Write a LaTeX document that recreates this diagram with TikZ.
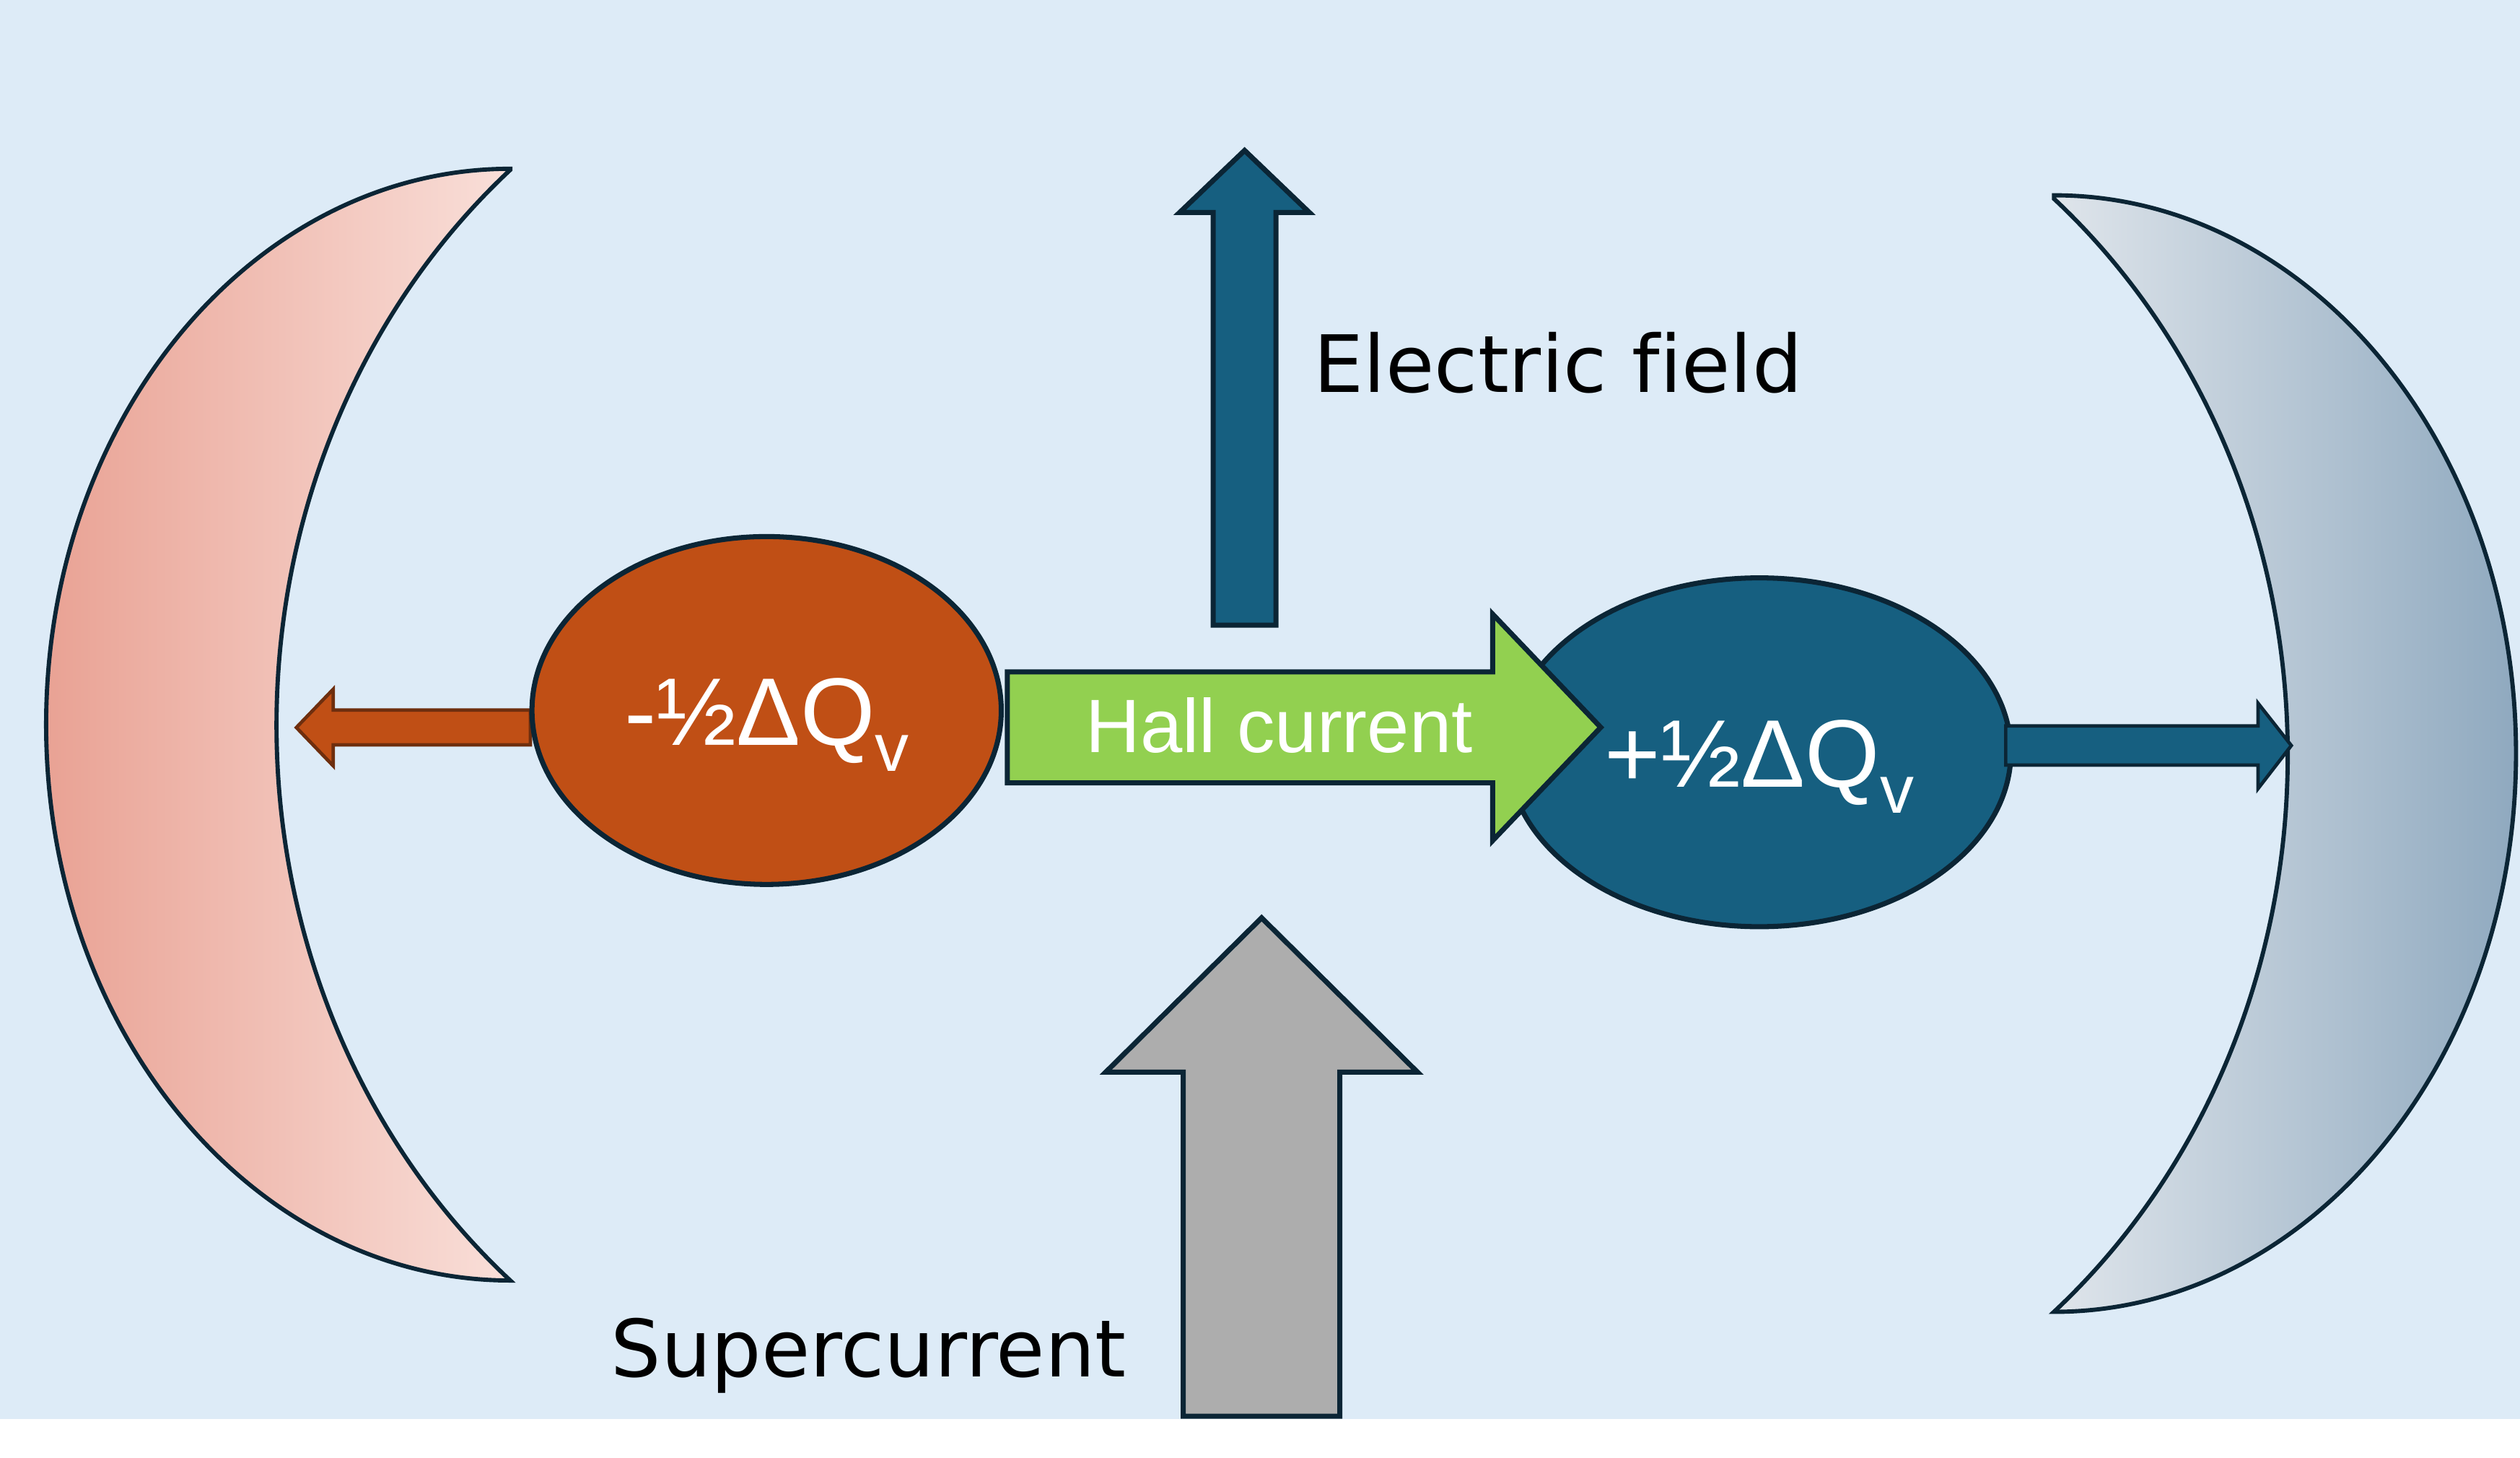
\documentclass[tikz,border=0pt]{standalone}
\usepackage{fontspec}
\setmainfont{Liberation Sans}
\newfontfamily\capfont[Ligatures=NoCommon]{DejaVu Sans}
\usepackage{tikz}
\usetikzlibrary{calc,shapes.geometric}

\definecolor{bgblue}{HTML}{DDEBF7}
\definecolor{edge}{HTML}{0B2535}
\definecolor{rust}{HTML}{C04F15}
\definecolor{rustdark}{HTML}{6E2E0E}
\definecolor{teal}{HTML}{165F80}
\definecolor{hallgreen}{HTML}{92D050}
\definecolor{supergray}{HTML}{ADADAD}
\definecolor{pinkL}{HTML}{E9A294}
\definecolor{pinkR}{HTML}{F9DFD9}
\definecolor{steelL}{HTML}{DFE5EB}
\definecolor{steelR}{HTML}{8FA9BF}

\newcommand{\qsub}{\raisebox{-0.165cm}{\fontsize{12}{12}\selectfont v}}

\tikzset{
  outl/.style={draw=edge, line width=0.9pt, line join=miter},
  thinoutl/.style={draw=edge, line width=0.75pt, line join=miter},
  qnode/.style={ellipse, outl, inner sep=0pt, text=white,
    font=\fontsize{17}{17}\selectfont, text height=0.43cm, text depth=0pt},
  caption/.style={anchor=base west, inner sep=0pt, font=\capfont\fontsize{14}{14}\selectfont}
}

\begin{document}
\begin{tikzpicture}
\useasboundingbox (0,0) rectangle (15.68,-9.07);
\fill[bgblue] (0,0) rectangle (15.68,-8.83);

% crescents
\shadedraw[left color=pinkL, right color=pinkR, thinoutl]
  (3.175,-1.05) arc[start angle=90, end angle=270, x radius=2.888, y radius=3.458]
  arc[start angle=229.7, end angle=130.3, x radius=4.118, y radius=4.53] -- cycle;
\shadedraw[left color=steelL, right color=steelR, thinoutl]
  (12.78,-1.215) arc[start angle=90, end angle=-90, x radius=2.875, y radius=3.473]
  arc[start angle=-49.7, end angle=49.7, x radius=4.118, y radius=4.54] -- cycle;

% small arrows out of the charges
\filldraw[fill=rust, draw=rustdark, line width=0.6pt]
  (3.30,-4.417) -- (2.073,-4.417) -- (2.073,-4.288) -- (1.844,-4.526)
  -- (2.073,-4.764) -- (2.073,-4.634) -- (3.30,-4.634) -- cycle;

\node[qnode, fill=rust, minimum width=2.92cm, minimum height=2.164cm] (qminus) at (4.77,-4.42) {-½ΔQ\qsub};
\node[qnode, fill=teal, minimum width=3.13cm, minimum height=2.17cm] (qplus) at (10.947,-4.68) {+½ΔQ\qsub};

\filldraw[fill=teal, draw=edge, line width=0.6pt]
  (12.48,-4.516) -- (14.05,-4.516) -- (14.05,-4.375) -- (14.257,-4.638)
  -- (14.05,-4.906) -- (14.05,-4.76) -- (12.48,-4.76) -- cycle;

% Hall current
\filldraw[fill=hallgreen, outl]
  (6.268,-4.18) -- (9.287,-4.18) -- (9.287,-3.82) -- (9.96,-4.525)
  -- (9.287,-5.23) -- (9.287,-4.87) -- (6.268,-4.87) -- cycle;
\node[anchor=base, inner sep=0pt, text=white, font=\fontsize{13.4}{13.4}\selectfont] (hall) at (7.96,-4.68) {Hall current};

% Electric field
\filldraw[fill=teal, outl]
  (7.549,-3.889) -- (7.549,-1.322) -- (7.34,-1.322) -- (7.744,-0.936)
  -- (8.147,-1.322) -- (7.939,-1.322) -- (7.939,-3.889) -- cycle;
\node[caption] (efield) at (8.168,-2.439) {Electric field};

% Supercurrent
\filldraw[fill=supergray, outl]
  (7.362,-8.81) -- (7.362,-6.67) -- (6.88,-6.67) -- (7.85,-5.71)
  -- (8.82,-6.67) -- (8.337,-6.67) -- (8.337,-8.81) -- cycle;
\node[caption] (super) at (3.795,-8.565) {Supercurrent};

\end{tikzpicture}
\end{document}
